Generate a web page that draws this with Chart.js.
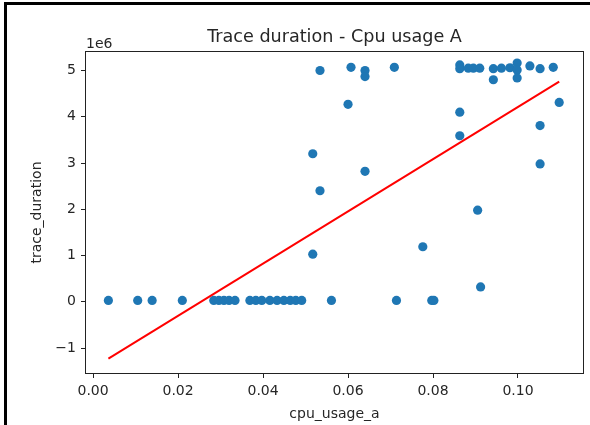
<!DOCTYPE html>
<html>
<head>
<meta charset="utf-8">
<script src="https://cdn.jsdelivr.net/npm/chart.js@4.4.1/dist/chart.umd.min.js"></script>
<style>
	body { margin: 0; background: #fff; }
	#wrap { position: relative; width: 590px; height: 425px; overflow: hidden; }
	.edge { position: absolute; background: #000; }
</style>
</head>
<body>
<div id="wrap">
	<canvas id="chart" width="590" height="425"></canvas>
	<div class="edge" style="left:4px; top:2px; width:586px; height:3px;"></div>
	<div class="edge" style="left:4px; top:2px; width:3px; height:423px;"></div>
</div>
<script>
	// scatter values (cpu_usage_a, trace_duration)
	var cpuUsage = [
		0.0036, 0.0105, 0.0139, 0.0210, 0.0284, 0.0296, 0.0308, 0.0320, 0.0334,
		0.0369, 0.0383, 0.0397, 0.0416, 0.0433, 0.0449, 0.0464, 0.0477, 0.0491,
		0.0561, 0.0714, 0.0797, 0.0802,
		0.0534, 0.0607, 0.0640, 0.0640, 0.0709,
		0.0863, 0.0863, 0.0883, 0.0895, 0.0910, 0.0942, 0.0942, 0.0961, 0.0981,
		0.0998, 0.0998, 0.0998, 0.1028, 0.1052, 0.1083,
		0.0600, 0.0863, 0.0863, 0.0517, 0.0640, 0.0534,
		0.0905, 0.0776, 0.0517, 0.0912, 0.1052, 0.1052, 0.1097
	];
	var traceDuration = [
		30000, 30000, 30000, 30000, 30000, 30000, 30000, 30000, 30000,
		30000, 30000, 30000, 30000, 30000, 30000, 30000, 30000, 30000,
		30000, 30000, 30000, 30000,
		5000000, 5070000, 5000000, 4870000, 5070000,
		5120000, 5040000, 5050000, 5050000, 5050000, 5040000, 4800000, 5050000, 5060000,
		5160000, 5010000, 4840000, 5100000, 5040000, 5070000,
		4270000, 4100000, 3590000, 3200000, 2820000, 2400000,
		1980000, 1190000, 1030000, 320000, 3810000, 2980000, 4310000
	];

	// fitted line end points
	var fitCpu = [ 0.0036, 0.1097 ];
	var fitDuration = [ -1230000, 4760000 ];

	// tick labels
	var xTicks = [ 0, 0.02, 0.04, 0.06, 0.08, 0.10 ];
	var yTicks = [ -1, 0, 1, 2, 3, 4, 5 ]; // x 1e6

	var textColor = '#262626';

	Chart.defaults.font.family = "'DejaVu Sans', sans-serif";
	Chart.defaults.font.size = 14;
	Chart.defaults.color = textColor;

	/**
	 * Build point list.
	 */
	function toPoints( xs, ys ) {
		return xs.map( function( x, i ) {
			return { x: x, y: ys[i] };
		} );
	}

	/**
	 * Frame around the axes + offset text.
	 */
	var framePlugin = {
		id: 'frame',
		afterDraw: function( chart ) {
			var ctx = chart.ctx;
			var a = chart.chartArea;

			ctx.save();
			ctx.strokeStyle = '#222';
			ctx.lineWidth = 1;
			ctx.strokeRect( Math.round( a.left ) - 0.5, Math.round( a.top ) - 0.5, Math.round( a.right - a.left ) + 1, Math.round( a.bottom - a.top ) + 1 );

			ctx.fillStyle = textColor;
			ctx.font = "14px 'DejaVu Sans', sans-serif";
			ctx.textAlign = 'left';
			ctx.textBaseline = 'alphabetic';
			ctx.fillText( '1e6', a.left, a.top - 4 );
			ctx.restore();
		}
	};

	var tickGrid = {
		display: true,
		drawOnChartArea: false,
		drawTicks: true,
		tickLength: 5,
		tickColor: '#222',
		lineWidth: 1
	};

	new Chart( document.getElementById( 'chart' ).getContext( '2d' ), {
		type: 'scatter',
		data: {
			datasets: [
				{
					label: 'fit',
					data: toPoints( fitCpu, fitDuration ),
					showLine: true,
					borderColor: '#ff0000',
					borderWidth: 2,
					pointRadius: 0,
					order: 0
				},
				{
					label: 'trace_duration',
					data: toPoints( cpuUsage, traceDuration ),
					backgroundColor: '#1f77b4',
					borderWidth: 0,
					pointRadius: 4.6,
					order: 1
				}
			]
		},
		options: {
			responsive: false,
			animation: false,
			layout: {
				padding: { top: 0, right: 7, bottom: 0, left: 0 }
			},
			plugins: {
				legend: { display: false },
				tooltip: { enabled: false },
				title: {
					display: true,
					text: 'Trace duration - Cpu usage A',
					fullSize: false,
					color: textColor,
					font: { size: 17.6, weight: 'normal' },
					padding: { top: 27, bottom: 3.9 }
				}
			},
			scales: {
				x: {
					type: 'linear',
					min: -0.00167,
					max: 0.1153,
					grid: tickGrid,
					border: { display: false },
					afterBuildTicks: function( scale ) {
						scale.ticks = xTicks.map( function( v ) {
							return { value: v };
						} );
					},
					afterFit: function( scale ) {
						scale.height = 52;
					},
					ticks: {
						padding: 5,
						maxRotation: 0,
						callback: function( value ) {
							return Number( value ).toFixed( 2 );
						}
					},
					title: {
						display: true,
						text: 'cpu_usage_a',
						font: { size: 14 },
						padding: { top: 0, bottom: 2 }
					}
				},
				y: {
					type: 'linear',
					min: -1540000,
					max: 5400000,
					grid: tickGrid,
					border: { display: false },
					afterBuildTicks: function( scale ) {
						scale.ticks = yTicks.map( function( v ) {
							return { value: v * 1e6 };
						} );
					},
					afterFit: function( scale ) {
						scale.width = 86;
					},
					ticks: {
						padding: 5,
						callback: function( value ) {
							var v = Math.round( value / 1e6 );
							return v < 0 ? '\u2212' + Math.abs( v ) : String( v );
						}
					},
					title: {
						display: true,
						text: 'trace_duration',
						font: { size: 14 },
						padding: { top: 28.6, bottom: 0 }
					}
				}
			}
		},
		plugins: [ framePlugin ]
	} );
</script>
</body>
</html>
